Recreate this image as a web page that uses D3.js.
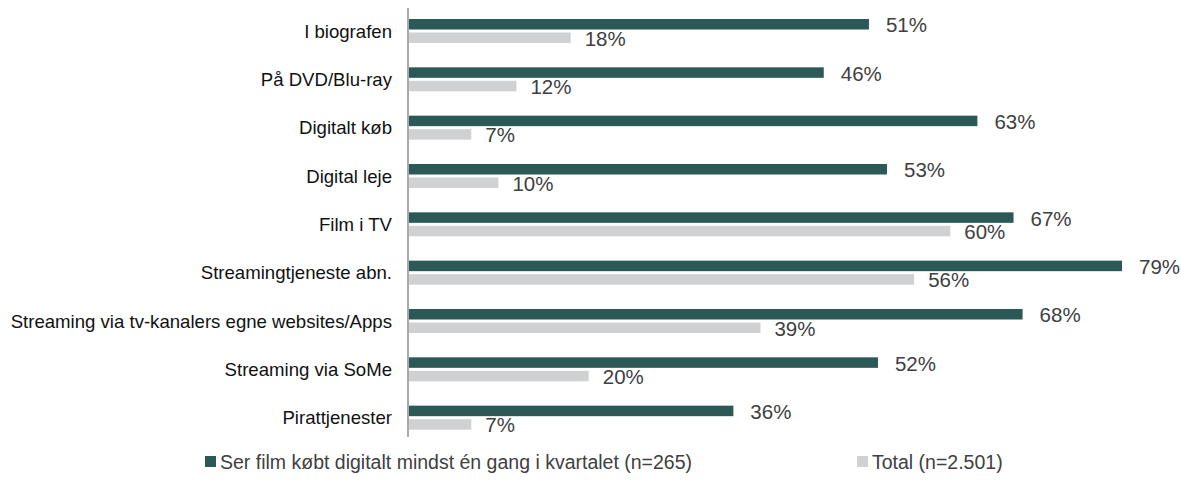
<!DOCTYPE html>
<html>
<head>
<meta charset="utf-8">
<script src="https://cdn.jsdelivr.net/npm/d3@7"></script>
<style>
  body { margin: 0; background: #fff; }
  text { font-family: "Liberation Sans", Arial, sans-serif; }
</style>
</head>
<body>
<svg id="chart" width="1181" height="501"></svg>
<script>
// data
const categories = ["I biografen", "På DVD/Blu-ray", "Digitalt køb", "Digital leje", "Film i TV",
  "Streamingtjeneste abn.", "Streaming via tv-kanalers egne websites/Apps", "Streaming via SoMe", "Pirattjenester"];
const digitalValues = [51, 46, 63, 53, 67, 79, 68, 52, 36];
const totalValues = [18, 12, 7, 10, 60, 56, 39, 20, 7];
const seriesNames = ["Ser film købt digitalt mindst én gang i kvartalet (n=265)", "Total (n=2.501)"];

const DARK = "#2a5956", GREY = "#d0d1d3";
const svg = d3.select("#chart");

let x = d3.scaleLinear().domain([0, 79]).range([408, 1122]);
let y = d3.scaleBand().domain(categories).range([8, 443]).paddingInner(0).paddingOuter(0);
const barH = 10.5;

// y axis line
svg.append("line")
  .attr("x1", 408).attr("x2", 408)
  .attr("y1", 8).attr("y2", 437)
  .attr("stroke", "#8c8c8c").attr("stroke-width", 1.5);

let rows = svg.selectAll("g.row")
  .data(categories)
  .join("g")
  .attr("class", "row")
  .attr("transform", d => `translate(0, ${y(d)})`);

// category labels
rows.append("text")
  .attr("x", 392)
  .attr("y", 23)
  .attr("dy", "0.35em")
  .attr("text-anchor", "end")
  .style("font-size", "18.6px")
  .attr("fill", "#111")
  .text(d => d);

// dark bars
rows.append("rect")
  .attr("x", x(0) + 1)
  .attr("y", 11)
  .attr("height", barH)
  .attr("width", (d, i) => x(digitalValues[i]) - x(0) - 1)
  .attr("fill", DARK);

rows.append("text")
  .attr("x", (d, i) => x(digitalValues[i]) + 17)
  .attr("y", 17)
  .attr("dy", "0.35em")
  .style("font-size", "20.5px")
  .attr("fill", "#404040")
  .text((d, i) => digitalValues[i] + "%");

// grey bars
rows.append("rect")
  .attr("x", x(0) + 1)
  .attr("y", 24.5)
  .attr("height", barH)
  .attr("width", (d, i) => x(totalValues[i]) - x(0) - 1)
  .attr("fill", GREY);

rows.append("text")
  .attr("x", (d, i) => x(totalValues[i]) + 14)
  .attr("y", 30.5)
  .attr("dy", "0.35em")
  .style("font-size", "20.5px")
  .attr("fill", "#404040")
  .text((d, i) => totalValues[i] + "%");

// legend
const legendX = [205, 857];
const legendColors = [DARK, GREY];
let legend = svg.selectAll("g.legend")
  .data(seriesNames)
  .join("g")
  .attr("class", "legend")
  .attr("transform", (d, i) => `translate(${legendX[i]}, 462)`);

legend.append("rect")
  .attr("x", 0).attr("y", -6)
  .attr("width", 11).attr("height", 11)
  .attr("fill", (d, i) => legendColors[i]);

legend.append("text")
  .attr("x", 15)
  .attr("y", 0)
  .attr("dy", "0.35em")
  .style("font-size", "19.5px")
  .attr("fill", "#404040")
  .text(d => d);
</script>
</body>
</html>
